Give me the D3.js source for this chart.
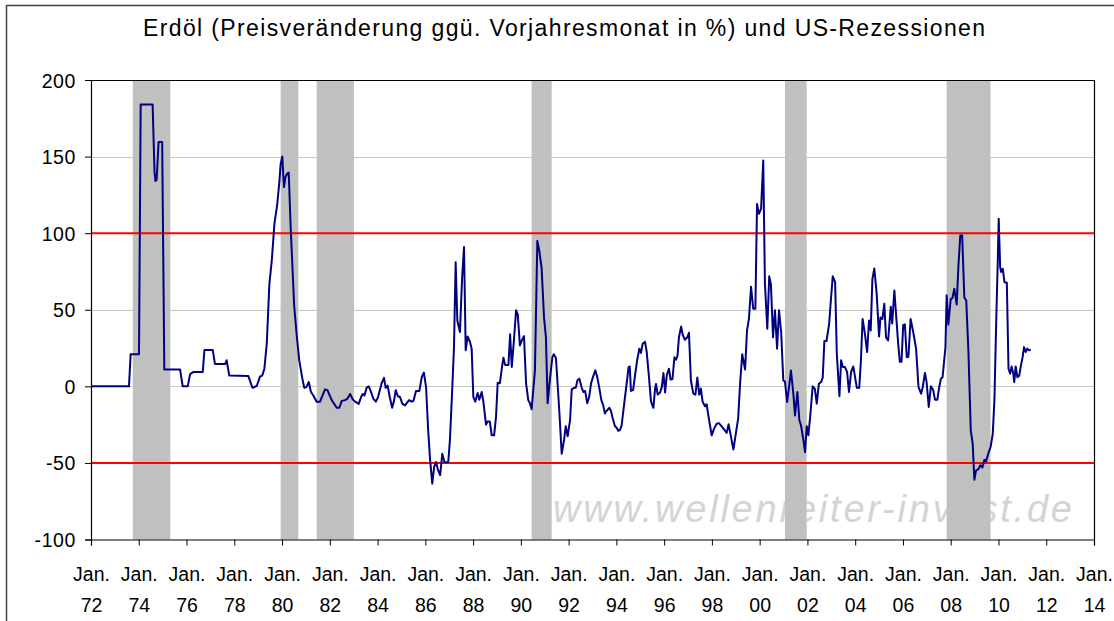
<!DOCTYPE html>
<html>
<head>
<meta charset="utf-8">
<script src="https://cdn.jsdelivr.net/npm/d3@7"></script>
<style>
  body { margin: 0; background: #fff; }
  text { font-family: "Liberation Sans", Arial, sans-serif; }
</style>
</head>
<body>
<div id="chart"></div>
<script>
const svgWidth = 1114;
const svgHeight = 621;

const margin = {top: 80, right: 20, bottom: 81.5, left: 91};
const width = 1094 - margin.left;
const height = 539.5 - margin.top;

const title = "Erdöl (Preisveränderung ggü. Vorjahresmonat in %) und US-Rezessionen";
const watermark = "www.wellenreiter-invest.de";

// x ticks every two years, label "Jan." over the short year
const tickYears = [1972, 1974, 1976, 1978, 1980, 1982, 1984, 1986, 1988, 1990, 1992,
                   1994, 1996, 1998, 2000, 2002, 2004, 2006, 2008, 2010, 2012, 2014];
const tickLabels = ["72", "74", "76", "78", "80", "82", "84", "86", "88", "90", "92",
                    "94", "96", "98", "00", "02", "04", "06", "08", "10", "12", "14"];
const yTicks = [-100, -50, 0, 50, 100, 150, 200];
const redLines = [100, -50];

// US recessions (decimal years)
const recStart = [1973.75, 1979.94, 1981.45, 1990.45, 2001.06, 2007.83];
const recEnd   = [1975.32, 1980.68, 1983.01, 1991.29, 2001.97, 2009.67];

// oil price change vs. same month of previous year, %
const dates = [
  1972.00, 1973.59, 1973.66, 1974.01, 1974.08, 1974.58, 1974.66, 1974.70, 1974.75, 1974.83,
  1974.98, 1975.07, 1975.73, 1975.84, 1976.05, 1976.15, 1976.29, 1976.68, 1976.75, 1977.10,
  1977.19, 1977.62, 1977.68, 1977.79, 1978.59, 1978.76, 1978.94, 1979.08, 1979.17, 1979.26,
  1979.36, 1979.47, 1979.57, 1979.68, 1979.80, 1979.89, 1979.94, 1980.01, 1980.08, 1980.14,
  1980.22, 1980.28, 1980.36, 1980.51, 1980.61, 1980.72, 1980.84, 1980.93, 1981.02, 1981.12,
  1981.21, 1981.31, 1981.45, 1981.59, 1981.80, 1981.90, 1982.08, 1982.29, 1982.40, 1982.50,
  1982.64, 1982.74, 1982.85, 1982.96, 1983.06, 1983.21, 1983.31, 1983.38, 1983.45, 1983.54,
  1983.63, 1983.71, 1983.82, 1983.93, 1984.02, 1984.17, 1984.27, 1984.34, 1984.42, 1984.51,
  1984.61, 1984.69, 1984.76, 1984.85, 1984.94, 1985.04, 1985.15, 1985.22, 1985.32, 1985.43,
  1985.50, 1985.61, 1985.75, 1985.85, 1985.94, 1986.03, 1986.12, 1986.20, 1986.29, 1986.37,
  1986.45, 1986.52, 1986.62, 1986.71, 1986.80, 1986.96, 1987.03, 1987.13, 1987.20, 1987.27,
  1987.34, 1987.45, 1987.54, 1987.62, 1987.69, 1987.77, 1987.87, 1987.94, 1988.01, 1988.09,
  1988.19, 1988.26, 1988.36, 1988.43, 1988.54, 1988.61, 1988.70, 1988.78, 1988.88, 1988.96,
  1989.03, 1989.12, 1989.21, 1989.27, 1989.34, 1989.48, 1989.55, 1989.62, 1989.71, 1989.80,
  1989.87, 1989.96, 1990.04, 1990.13, 1990.22, 1990.31, 1990.38, 1990.45, 1990.59, 1990.69,
  1990.77, 1990.87, 1990.97, 1991.05, 1991.12, 1991.22, 1991.32, 1991.38, 1991.47, 1991.60,
  1991.71, 1991.81, 1991.88, 1991.96, 1992.06, 1992.13, 1992.23, 1992.30, 1992.37, 1992.45,
  1992.55, 1992.62, 1992.69, 1992.78, 1992.86, 1992.94, 1993.04, 1993.12, 1993.20, 1993.29,
  1993.37, 1993.45, 1993.52, 1993.59, 1993.70, 1993.77, 1993.84, 1993.94, 1994.01, 1994.08,
  1994.15, 1994.22, 1994.33, 1994.43, 1994.51, 1994.56, 1994.61, 1994.70, 1994.79, 1994.87,
  1994.96, 1995.03, 1995.10, 1995.20, 1995.27, 1995.37, 1995.45, 1995.55, 1995.62, 1995.66,
  1995.73, 1995.83, 1995.90, 1995.97, 1996.04, 1996.11, 1996.20, 1996.27, 1996.35, 1996.43,
  1996.50, 1996.56, 1996.62, 1996.71, 1996.78, 1996.87, 1996.97, 1997.04, 1997.12, 1997.22,
  1997.31, 1997.39, 1997.47, 1997.54, 1997.61, 1997.71, 1997.78, 1997.85, 1997.92, 1997.99,
  1998.09, 1998.20, 1998.29, 1998.40, 1998.50, 1998.62, 1998.70, 1998.80, 1998.90, 1999.00,
  1999.10, 1999.18, 1999.27, 1999.39, 1999.47, 1999.55, 1999.64, 1999.73, 1999.82, 1999.89,
  1999.97, 2000.06, 2000.15, 2000.22, 2000.32, 2000.40, 2000.47, 2000.56, 2000.64, 2000.73,
  2000.81, 2000.90, 2000.99, 2001.06, 2001.15, 2001.24, 2001.31, 2001.41, 2001.48, 2001.58,
  2001.66, 2001.73, 2001.83, 2001.90, 2001.97, 2002.04, 2002.12, 2002.22, 2002.31, 2002.39,
  2002.48, 2002.57, 2002.64, 2002.71, 2002.80, 2002.91, 2002.99, 2003.06, 2003.16, 2003.23,
  2003.34, 2003.41, 2003.48, 2003.57, 2003.66, 2003.74, 2003.83, 2003.92, 2003.99, 2004.07,
  2004.17, 2004.24, 2004.31, 2004.41, 2004.50, 2004.58, 2004.65, 2004.72, 2004.80, 2004.90,
  2005.00, 2005.06, 2005.14, 2005.22, 2005.29, 2005.38, 2005.49, 2005.55, 2005.64, 2005.73,
  2005.80, 2005.87, 2005.94, 2006.01, 2006.08, 2006.16, 2006.23, 2006.32, 2006.43, 2006.55,
  2006.65, 2006.76, 2006.83, 2006.92, 2006.99, 2007.08, 2007.17, 2007.27, 2007.34, 2007.44,
  2007.52, 2007.59, 2007.66, 2007.78, 2007.83, 2007.90, 2008.00, 2008.07, 2008.15, 2008.25,
  2008.32, 2008.40, 2008.48, 2008.57, 2008.65, 2008.74, 2008.84, 2008.92, 2008.99, 2009.06,
  2009.16, 2009.24, 2009.33, 2009.41, 2009.48, 2009.57, 2009.67, 2009.76, 2009.83, 2009.90,
  2009.97, 2010.01, 2010.07, 2010.11, 2010.18, 2010.25, 2010.35, 2010.42, 2010.49, 2010.55,
  2010.62, 2010.66, 2010.72, 2010.79, 2010.87, 2010.94, 2011.01, 2011.07, 2011.14, 2011.21,
  2011.28, 2011.35
];
const changes = [
  0, 0, 21, 21, 184, 184, 140, 134, 135, 159.5,
  159.5, 11, 11, 0, 0, 8, 9.4, 9.4, 23.7, 23.7,
  14.6, 14.6, 17, 7, 6.7, -0.9, 0.2, 6.5, 7, 11.5,
  27.8, 67, 82, 106, 119, 134, 145, 150, 130, 136.5,
  139, 139.5, 104, 52, 34, 17, 6, -1, -0.5, 2.8,
  -3.7, -6, -10, -10, -2, -2.5, -9, -14, -14, -9.5,
  -9, -8, -5, -8.5, -10, -11.5, -7, -5, -6, -1,
  0, -3, -8, -10, -7, 2, 5.5, -1, 0.5, -7,
  -14, -9.5, -2.5, -6.5, -7, -11.5, -12.5, -11, -9, -10,
  -9.5, -3, -3, 6, 9, -0.5, -29, -48, -63.5, -52.6,
  -49.4, -54, -58, -44, -49.5, -49.5, -35, -0.5, 25.6, 81,
  43, 35.4, 71, 91, 23.5, 32.6, 29, 24.6, -7, -10,
  -4.3, -8.7, -3.7, -10, -25, -23, -23, -32, -32, -20,
  2.4, 2, 12.6, 18.7, 14, 14, 34, 12.6, 30, 49.6,
  47, 26.7, 30, 32.8, 1.7, -9, -11, -15, 10.4, 95,
  88.7, 77, 45, 32, -11, 5, 19, 21, 18.5, -13.5,
  -44, -35, -26, -32.6, -22, -2, -1, -1, 4, 5,
  -1, -3.7, -3, -11, -7, 2, 7, 10.4, 6, -1.5,
  -9, -12.4, -17.8, -16, -14, -16, -20.5, -26, -27, -29,
  -28.5, -25.5, -11, 1.7, 12.6, 13, -3, -2.5, 8.3, 17,
  24.6, 21.8, 27.8, 29, 22.4, 5, -10, -14, -1.5, 1.5,
  -5.4, -4, -0.5, 8.7, -4, 7.2, 11.5, 4.4, 4.8, 19,
  17.4, 20, 32, 39, 33.5, 30.4, 32, 35, 4, -4.8,
  -5.4, 5.7, -5.5, -1.5, -10, -13, -11.7, -19, -25.4, -32,
  -27.6, -24.4, -24, -26, -28, -30.4, -24.8, -33, -41.3, -31,
  -21, 1.7, 21, 11, 36.5, 44, 65, 50.7, 50.7, 119,
  112.6, 116, 147.4, 67, 37.6, 71.8, 66.7, 32, 49.6, 24.6,
  49.6, 35.4, 4, 3, -10.2, 0.7, 10.4, -4.8, -19, -3.7,
  -22, -25.4, -35, -43, -26, -32, -19, 0, -1.5, -11.3,
  1.7, 2.8, 5.7, 29.6, 29.6, 41, 58, 71.8, 68, 21.3,
  -6.5, 17, 12.6, 12.6, 9.4, -3.7, 9.4, 13, 6.5, -1,
  -1, 17, 44, 34, 22.4, 43, 36.5, 70, 77, 60.5,
  32.6, 45, 44, 54, 32, 30, 52, 41, 62.6, 43,
  27.8, 16, 16, 40, 40.5, 19, 19.3, 44, 35.5, 24.6,
  -0.4, -4.8, -0.4, 8.7, 2.8, -13.5, 0, -2.6, -8.7, -8.7,
  -0.4, 5, 6, 25.6, 59.4, 40.4, 57, 57.6, 63.7, 53.5,
  77.8, 98.5, 98.5, 58, 56, 23.5, -28.7, -37.4, -61, -55,
  -54, -51.5, -53, -48, -49, -44, -39.6, -31, -9, 38.7,
  82, 109.4, 77.8, 74.6, 76.8, 68, 67.6, 11.5, 8.3, 13,
  8.3, 2.8, 13, 6, 7, 13.7, 19, 25.6, 22.4, 24.6,
  23.5, 24
];

const svgRoot = d3.select("#chart")
    .append("svg")
    .attr("width", svgWidth)
    .attr("height", svgHeight);

svgRoot.append("rect")
    .attr("width", svgWidth).attr("height", svgHeight)
    .attr("fill", "#fff");

// outer chart border (runs off right/bottom edge)
svgRoot.append("rect")
    .attr("x", 6.5).attr("y", 5.5)
    .attr("width", 1200).attr("height", 700)
    .attr("fill", "none")
    .attr("stroke", "#404040")
    .attr("stroke-width", 1.5);

svgRoot.append("text")
    .attr("x", 143).attr("y", 36)
    .attr("textLength", 842)
    .attr("lengthAdjust", "spacing")
    .style("font-size", "23px")
    .text(title);

const svg = svgRoot.append("g")
    .attr("transform", "translate(" + margin.left + "," + margin.top + ")");

const x = d3.scaleLinear().domain([1972, 2014]).range([0, width]);
const y = d3.scaleLinear().domain([-100, 200]).range([height, 0]);

// watermark sits behind the recession bars
svg.append("text")
    .attr("x", 553 - margin.left).attr("y", 522 - margin.top)
    .attr("textLength", 519)
    .attr("lengthAdjust", "spacing")
    .style("font-size", "38px")
    .style("font-style", "italic")
    .style("fill", "#d4d4d4")
    .text(watermark);

// gridlines
svg.selectAll(".grid")
    .data(yTicks.filter(v => v !== 200 && v !== -100))
    .enter().append("line")
    .attr("x1", 0).attr("x2", width)
    .attr("y1", d => Math.round(y(d)) + 0.5)
    .attr("y2", d => Math.round(y(d)) + 0.5)
    .attr("stroke", "#c8c8c8")
    .attr("stroke-width", 1);

// recession bars
svg.selectAll(".rec")
    .data(recStart)
    .enter().append("rect")
    .attr("x", (d, i) => x(d))
    .attr("width", (d, i) => x(recEnd[i]) - x(d))
    .attr("y", 0)
    .attr("height", height)
    .attr("fill", "#c0c0c0");

// red reference lines
svg.selectAll(".red")
    .data(redLines)
    .enter().append("line")
    .attr("x1", 0).attr("x2", width)
    .attr("y1", d => y(d)).attr("y2", d => y(d))
    .attr("stroke", "#ff0000")
    .attr("stroke-width", 2);

const line = d3.line()
    .x((d, i) => x(dates[i]))
    .y(d => y(d));

svg.append("path")
    .datum(changes)
    .attr("d", line)
    .attr("fill", "none")
    .attr("stroke", "#000080")
    .attr("stroke-width", 2)
    .attr("stroke-linejoin", "round");

// plot area frame (top and right)
svg.append("path")
    .attr("d", "M0,0.5H" + (width + 0.5) + "V" + height)
    .attr("fill", "none")
    .attr("stroke", "#000")
    .attr("stroke-width", 1.2);

const yAxis = svg.append("g")
    .call(d3.axisLeft(y).tickValues(yTicks).tickSize(6).tickPadding(9).tickFormat(d => String(d)));
yAxis.select(".domain").attr("stroke", "#000").attr("stroke-width", 1.2);
yAxis.selectAll("text")
    .style("font-size", "19.5px")
    .style("letter-spacing", "0.6px")
    .style("font-family", "Liberation Sans, Arial, sans-serif")
    .attr("fill", "#000")
    .attr("dy", "0.36em");

const xAxis = svg.append("g")
    .attr("transform", "translate(0," + height + ")")
    .call(d3.axisBottom(x).tickValues(tickYears).tickSize(6).tickFormat(""));
xAxis.select(".domain").attr("stroke", "#000").attr("stroke-width", 1.2);

xAxis.selectAll(".tick").each(function (d, i) {
    const t = d3.select(this).append("text")
        .attr("text-anchor", "middle")
        .attr("fill", "#000")
        .style("font-size", "19.5px")
        .style("font-family", "Liberation Sans, Arial, sans-serif");
    t.append("tspan").attr("x", 0).attr("y", 41.5).text("Jan.");
    t.append("tspan").attr("x", 0).attr("y", 72).text(tickLabels[i]);
});
</script>
</body>
</html>
